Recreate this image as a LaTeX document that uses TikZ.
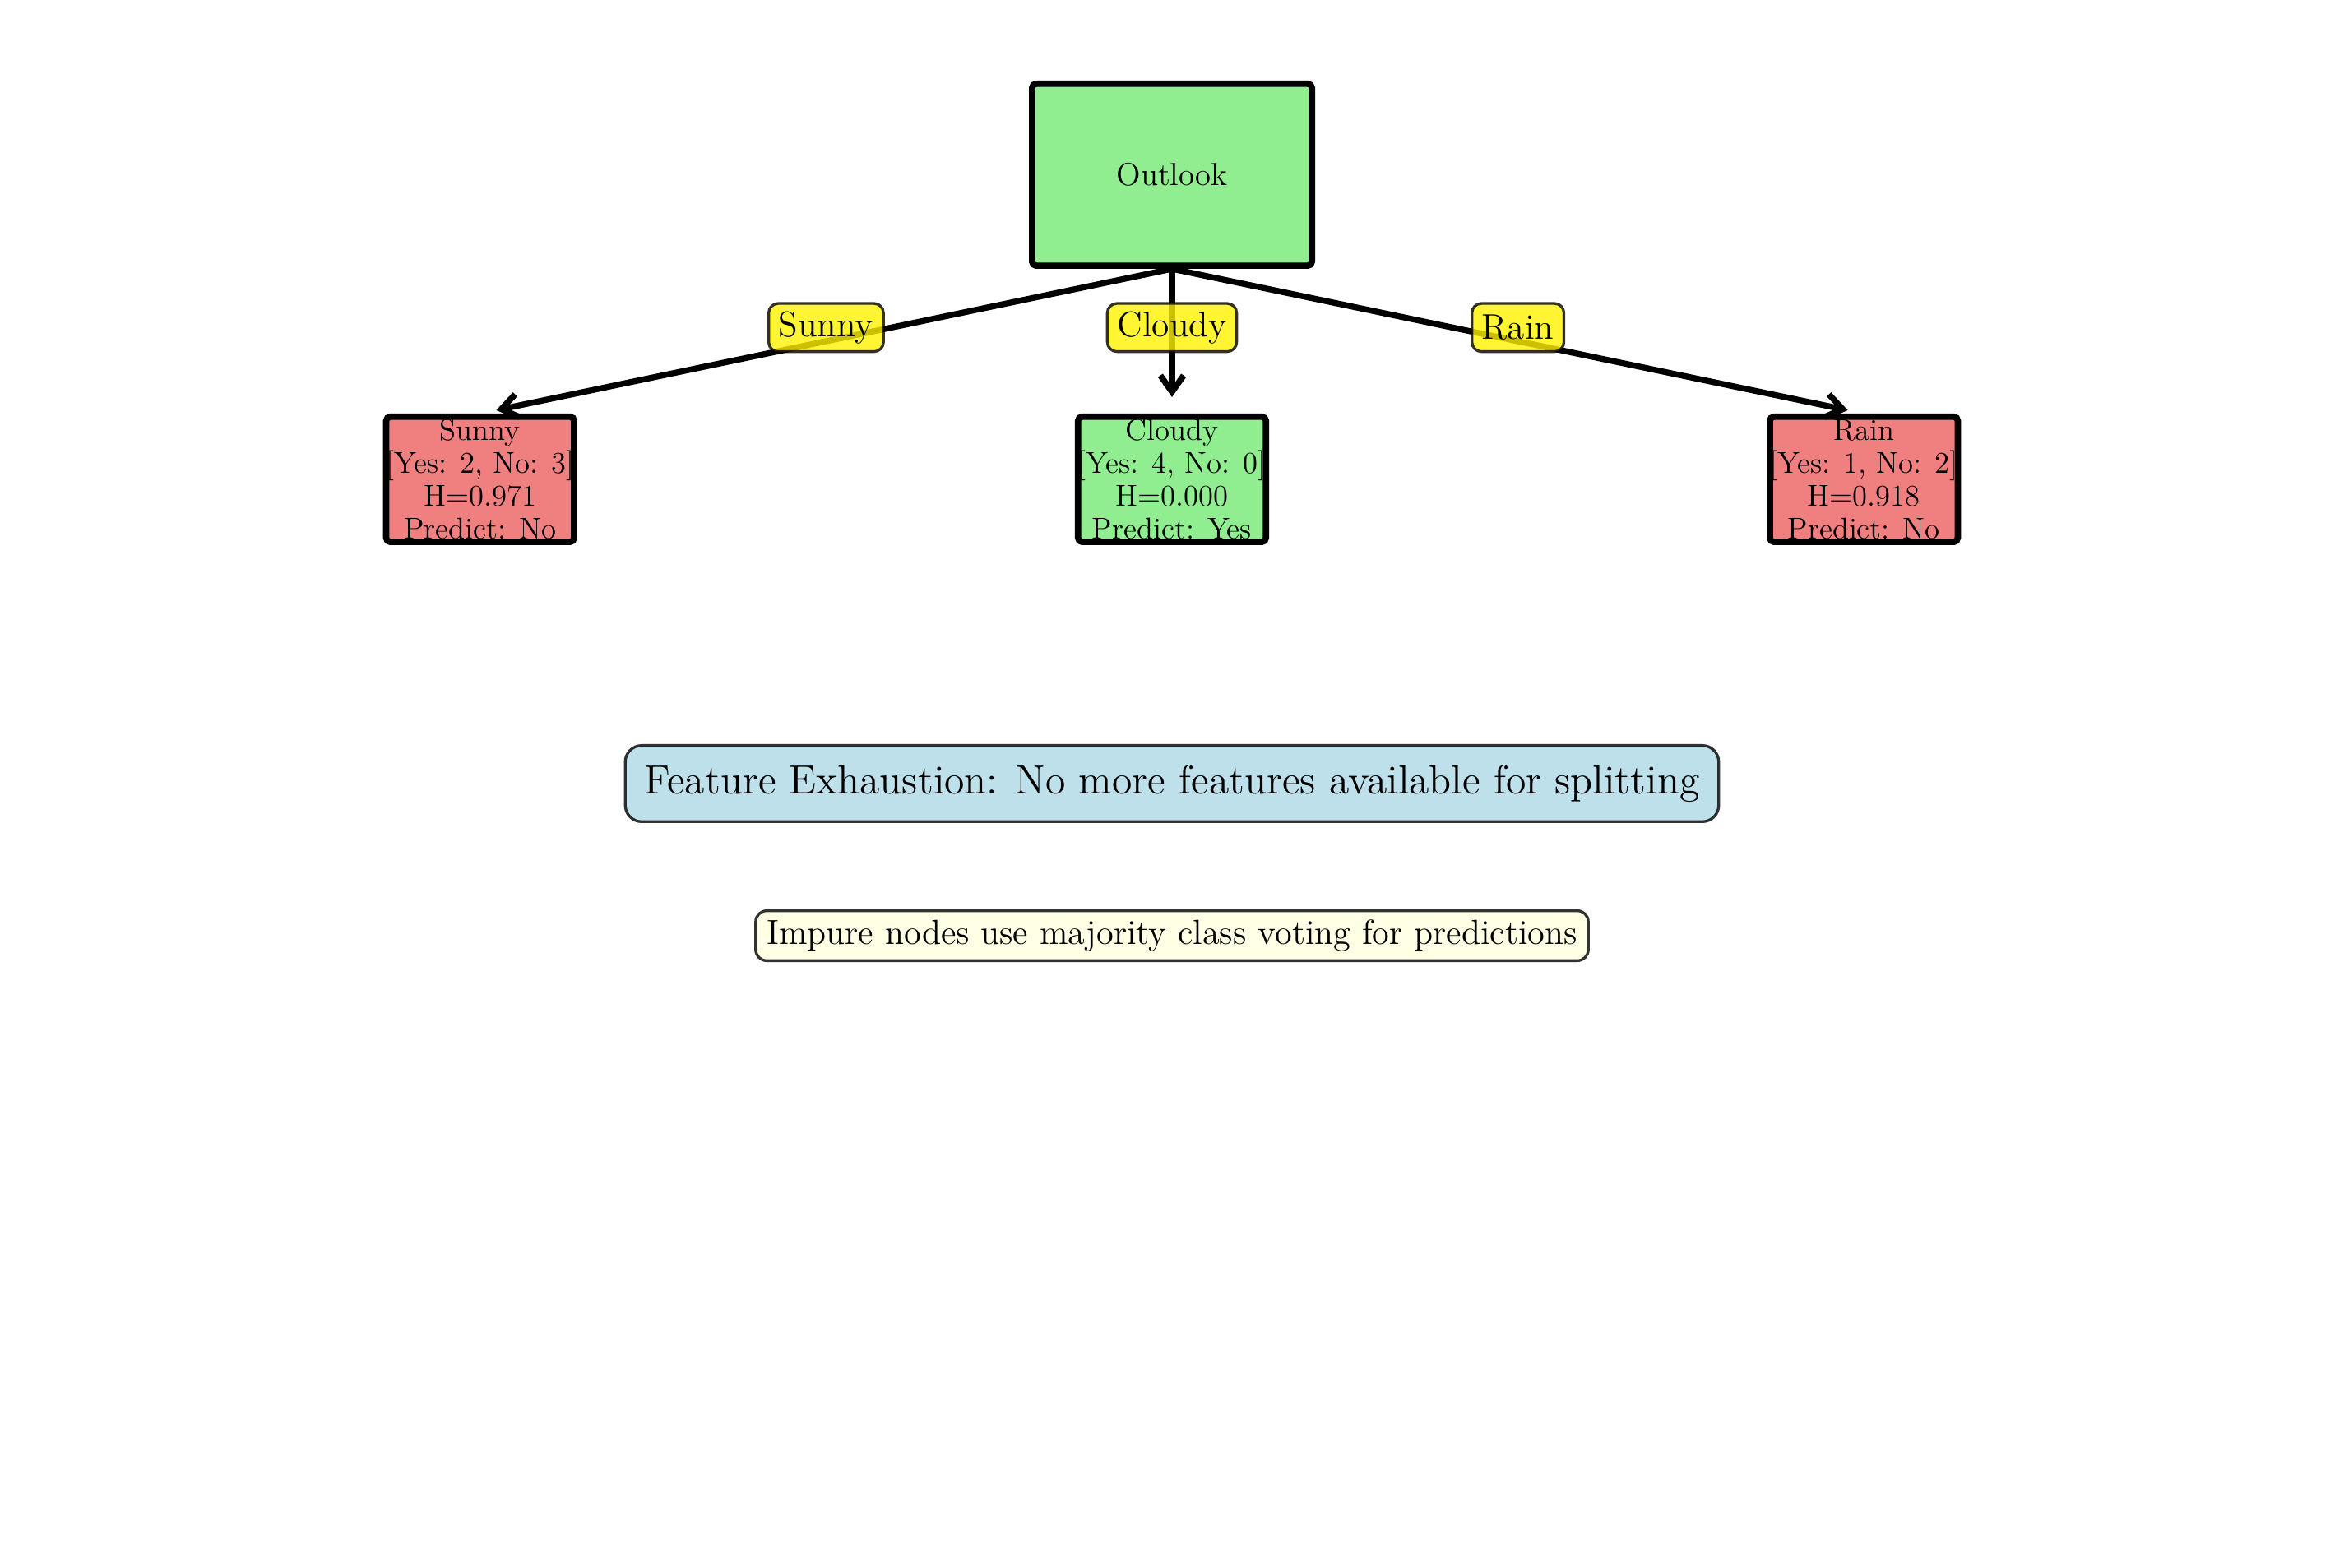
\documentclass[tikz,border=0pt]{standalone}
\usepackage{tikz}
\usetikzlibrary{arrows.meta}
\usetikzlibrary{positioning}

\definecolor{lightgreen}{HTML}{90EE90}
\definecolor{lightcoral}{HTML}{F08080}
\definecolor{lightblue}{HTML}{ADD8E6}
\definecolor{lightyellow}{HTML}{FFFFE0}

\begin{document}
\begin{tikzpicture}[
            every node/.style={rectangle,align=center},
            tree node/.style={draw,line width=2.3pt,rounded corners=1.5pt,inner sep=0pt},
            root node/.style={tree node,fill=lightgreen,minimum width=102.1pt,minimum height=66.4pt,font=\fontsize{11.6}{14}\selectfont},
            leaf node/.style={tree node,minimum width=68.5pt,minimum height=45.7pt,font=\fontsize{11}{12}\selectfont},
            branch label/.style={draw=black,draw opacity=0.8,fill=yellow,fill opacity=0.8,text opacity=1,line width=1pt,rounded corners=3.5pt,inner xsep=3.6pt,inner ysep=0pt,minimum height=17.6pt,font=\fontsize{13}{15}\selectfont},
            note box/.style={draw=black,draw opacity=0.8,fill opacity=0.8,text opacity=1,line width=1pt}
        ]
        \tikzset{>={Straight Barb[length=6pt,width=8.5pt]}}
        \useasboundingbox (0,0) rectangle (855pt,-572.1pt);
        \node [root node] (root) at (427.5pt,-63.75pt) {Outlook};
        \node [leaf node,fill=lightgreen,below=52.8pt of root] (leaf cloudy) {Cloudy\\ {[Yes: 4, No: 0]}\\ H=0.000\\ Predict: Yes};
        \node [leaf node,fill=lightcoral,left=181.5pt of leaf cloudy] (leaf sunny) {Sunny\\ {[Yes: 2, No: 3]}\\ H=0.971\\ Predict: No};
        \node [leaf node,fill=lightcoral,right=181.5pt of leaf cloudy] (leaf rain) {Rain\\ {[Yes: 1, No: 2]}\\ H=0.918\\ Predict: No};
        \node [note box,fill=lightblue,rounded corners=6pt,inner xsep=7pt,minimum height=27.8pt,font=\fontsize{14.9}{18}\selectfont,below=72.6pt of leaf cloudy] (summary) {Feature Exhaustion: No more features available for splitting};
        \node [note box,fill=lightyellow,rounded corners=4pt,inner xsep=4pt,minimum height=18pt,font=\fontsize{12.7}{15}\selectfont,below=31.5pt of summary] (remark) {Impure nodes use majority class voting for predictions};

        \path[->,line width=2.2pt,shorten >=6pt] (root.south) edge node[branch label,yshift=5pt] {Sunny} (leaf sunny.north);
        \path[->,line width=2.2pt,shorten >=6pt] (root.south) edge node[branch label,yshift=5pt] {Cloudy} (leaf cloudy.north);
        \path[->,line width=2.2pt,shorten >=6pt] (root.south) edge node[branch label,yshift=5pt] {Rain} (leaf rain.north);
    \end{tikzpicture}
\end{document}
